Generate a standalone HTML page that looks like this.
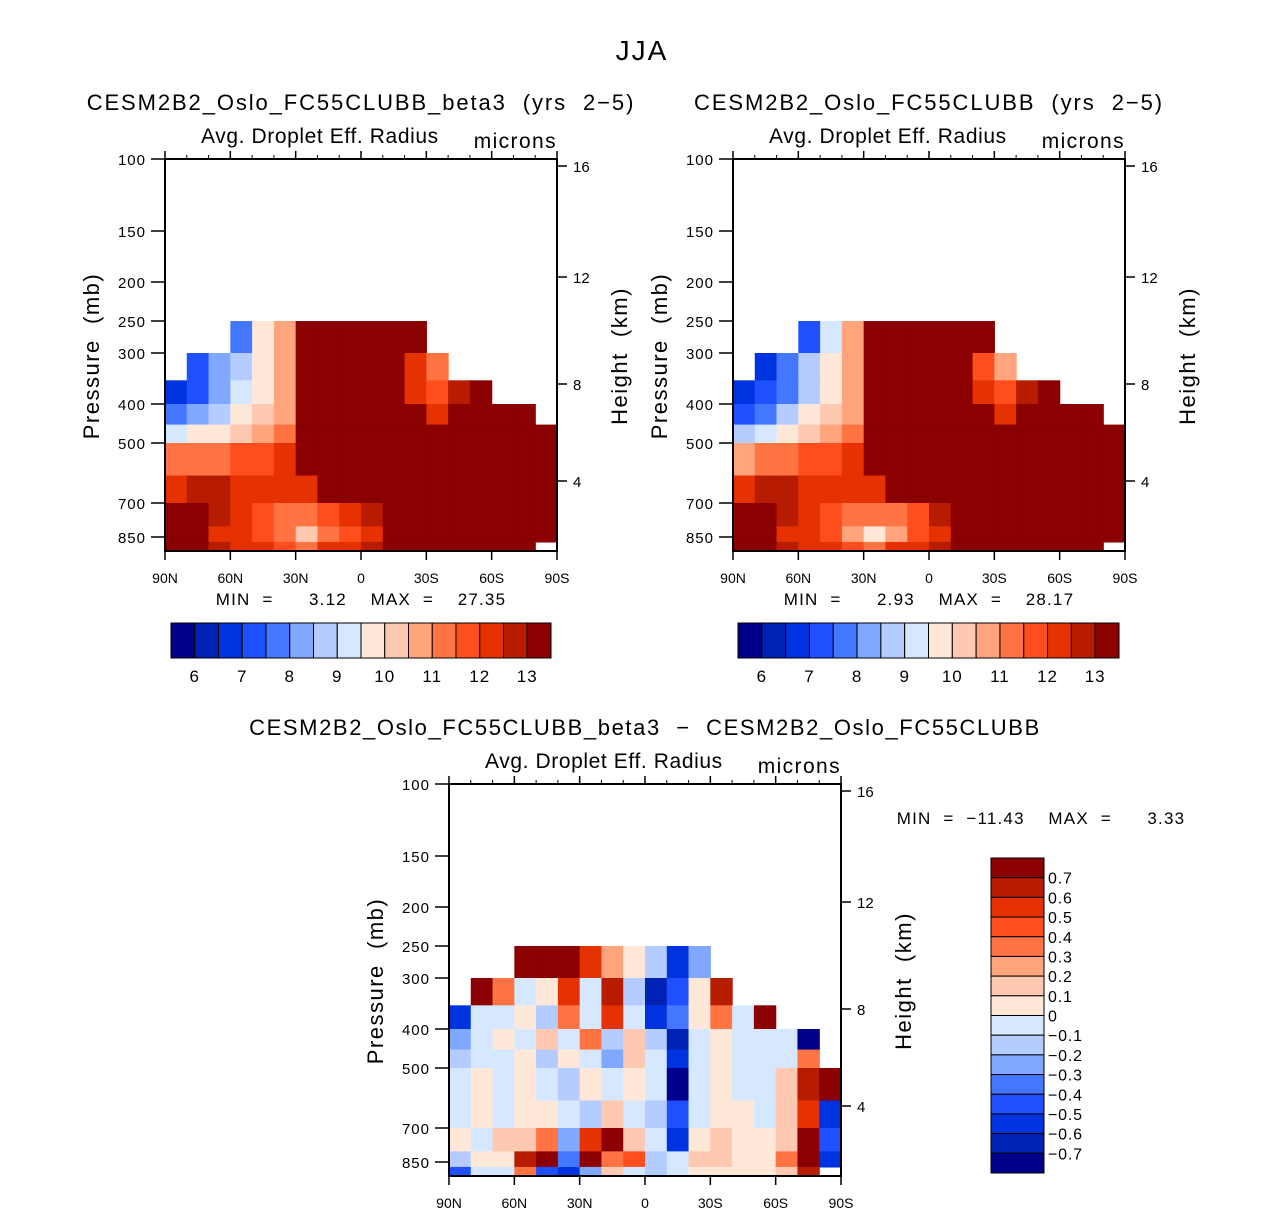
<!DOCTYPE html>
<html><head><meta charset="utf-8"><style>
body{margin:0;background:#fff;}
svg text{font-family:"Liberation Sans",sans-serif;fill:#000;white-space:pre;}
</style></head><body>
<svg id="fig" width="1285" height="1215" xmlns="http://www.w3.org/2000/svg"></svg>
<script>
// ---- data ----
const latEdges=[90,80,70,60,50,40,30,20,10,0,-10,-20,-30,-40,-50,-60,-70,-80,-90];
const presEdges=[250,300,350,400,450,500,600,700,800,900,1000];
const presTicks=[100,150,200,250,300,400,500,700,850];
const presTickPx=[0,72,123,162,194,245,284,344,378];
const heightTicks=[16,12,8,4];
const heightTickPx=[7,118,225,322];
const latTickLabels=["90N","60N","30N","0","30S","60S","90S"];
const latTickVals=[90,60,30,0,-30,-60,-90];
const mainBounds=[6,6.5,7,7.5,8,8.5,9,9.5,10,10.5,11,11.5,12,12.5,13];
const mainLabels=["6","7","8","9","10","11","12","13"];
const diffBounds=[-0.7,-0.6,-0.5,-0.4,-0.3,-0.2,-0.1,0,0.1,0.2,0.3,0.4,0.5,0.6,0.7];
const diffLabels=["0.7","0.6","0.5","0.4","0.3","0.2","0.1","0","\u22120.1","\u22120.2","\u22120.3","\u22120.4","\u22120.5","\u22120.6","\u22120.7"];
const N=NaN;
const field1=[
[N,N,N,7.5,9.5,10.5,14,14,14,14,14,14,N,N,N,N,N,N],
[N,7,8,8.5,9.5,10.5,14,14,14,14,14,12,11,N,N,N,N,N],
[6.5,7,8,9,9.5,10.5,14,14,14,14,14,12,11.5,12.5,13,N,N,N],
[7.5,8,8.5,9.5,10,10.5,14,14,14,14,14,13.5,12,13,14,14,14,N],
[9,9.5,9.5,10,10.5,11,14,14,14,14,14,14,13,14,14,14,14,14],
[11,11,11,11.5,11.5,12,13,14,14,14,14,14,14,14,14,14,14,14],
[12,12.5,12.5,12,12,12,12,13,14,14,14,14,14,14,14,14,14,14],
[13,13.5,12.5,12,11.5,11,11,11.5,12,12.5,13,14,14,14,14,14,14,14],
[14,13,12,12,11.5,11,10,11,11.5,12,13,14,14,14,14,14,14,14],
[14,14,12.5,12,12,11.5,11,12,12,12.5,13,14,14,14,14,14,14,N]];
const field2=[
[N,N,N,7,9,10.5,14,14,14,14,14,14,N,N,N,N,N,N],
[N,6.5,7.5,8.5,9.5,10.5,14,14,14,14,14,11.5,10.5,N,N,N,N,N],
[6.5,7,7.5,8.5,9.5,10.5,14,14,14,14,14,12,11.5,12.5,13,N,N,N],
[7,7.5,8.5,9.5,10,10.5,14,14,14,14,14,13.5,12,13,14,14,14,N],
[8.5,9,9.5,10,10.5,11,14,14,14,14,14,14,13,14,14,14,14,14],
[10.5,11,11,11.5,11.5,12,13,14,14,14,14,14,14,14,14,14,14,14],
[12,12.5,12.5,12,12,12,12,13,14,14,14,14,14,14,14,14,14,14],
[13,13.5,12.5,12,11.5,11,11,11,11.5,12.5,13,14,14,14,14,14,14,14],
[14,13,12,12,11.5,10.5,9.5,10.5,11.5,12,13,14,14,14,14,14,14,14],
[14,14,12.5,12,12,11.5,11,12,12,12.5,13,14,14,14,14,14,14,N]];
const fieldDiff=[
[N,N,N,0.8,0.8,0.8,0.5,0.2,0,-0.2,-0.6,-0.3,N,N,N,N,N,N],
[N,0.8,0.3,-0.05,0.05,0.5,-0.1,0.6,-0.2,-0.7,-0.5,0.05,0.6,N,N,N,N,N],
[-0.6,-0.05,-0.1,0.05,-0.2,0.3,-0.1,0.5,-0.05,-0.6,-0.4,0,0.3,-0.05,0.7,N,N,N],
[-0.3,-0.05,0,-0.1,0.15,-0.1,0.3,-0.2,0.1,-0.2,-0.7,-0.1,0.05,-0.05,-0.05,-0.1,-0.8,N],
[-0.15,-0.05,-0.05,0.05,-0.2,0.05,-0.05,-0.3,0.1,-0.05,-0.6,-0.05,0,-0.05,-0.1,-0.1,0.3,N],
[-0.05,0,-0.1,0,-0.05,-0.2,0.05,-0.1,0.05,-0.1,-0.8,-0.05,0.05,-0.05,-0.1,0.1,0.6,0.7],
[-0.1,0.05,-0.05,0,0.05,-0.1,-0.2,0.1,-0.05,-0.2,-0.5,-0.05,0.05,0.05,-0.05,0.1,0.5,-0.6],
[0.05,-0.05,0.1,0.15,0.3,-0.3,0.5,0.8,0.15,-0.1,-0.6,0.05,0.1,0.05,0,0.15,0.7,-0.5],
[-0.2,0.05,0,0.6,0.8,-0.4,0.8,0.3,0.4,-0.2,-0.1,0.1,0.1,0.05,0,0.3,0.8,-0.6],
[-0.5,-0.05,-0.1,0.3,-0.5,-0.6,-0.3,0.1,-0.1,-0.2,-0.05,0.05,0.05,0,0,0.15,0.6,N]];
const palette=["#00008b","#0022b4","#0033e0","#1e50ff","#4477ff","#80a8ff","#b4ccff","#d5e8ff","#ffe8d8","#ffc8b0","#ffa47c","#ff7442","#ff4e1e","#e63200","#b81c00","#8b0000"];

const NS="http://www.w3.org/2000/svg";
const svg=document.getElementById('fig');
function mk(tag,attrs,parent){const e=document.createElementNS(NS,tag);for(const k in attrs)e.setAttribute(k,attrs[k]);(parent||svg).appendChild(e);return e;}
function txt(s,x,y,size,anchor,name,parent,rot,ls){const t=mk('text',{x:x,y:y,'font-size':size,'text-anchor':anchor||'middle'},parent);if(ls)t.setAttribute('letter-spacing',ls);if(rot)t.setAttribute('transform','rotate(-90 '+x+' '+y+')');t.textContent=s;


return t;}
const S=392;
function xOf(lat,ox){return ox+(90-lat)/180*S;}
function yOf(p,oy){
  const ext=presTicks.concat([1000]);const px=presTickPx.concat([392]);
  for(let i=0;i<ext.length-1;i++){if(p>=ext[i]&&p<=ext[i+1]){const f=Math.log(p/ext[i])/Math.log(ext[i+1]/ext[i]);return oy+px[i]+f*(px[i+1]-px[i]);}}
  return oy+392;}
function colorIdx(v,b){let i=0;while(i<b.length&&v>=b[i])i++;return i;}

function panel(ox,oy,field,bounds,name,ttl,ttlLs){
  const g=mk('g',{});
  
  
  for(let r=0;r<field.length;r++)for(let c=0;c<field[r].length;c++){
    const v=field[r][c];if(isNaN(v))continue;
    const x0=xOf(latEdges[c],ox),x1=xOf(latEdges[c+1],ox),y0=yOf(presEdges[r],oy),y1=yOf(presEdges[r+1],oy);
    const rc=mk('rect',{x:x0,y:y0,width:x1-x0+0.6,height:y1-y0+0.6,fill:palette[colorIdx(v,bounds)]},g);
    
    
  }
  const fr=mk('rect',{x:ox,y:oy,width:S,height:S,fill:'none',stroke:'#000','stroke-width':2},g);
  
  
  presTicks.forEach((p,i)=>{const y=oy+presTickPx[i];mk('line',{x1:ox-14,x2:ox,y1:y,y2:y,stroke:'#000','stroke-width':1.5},g);txt(String(p),ox-19,y+6,15,'end','pressure-tick-label',g,false,1);});
  heightTicks.forEach((h,i)=>{const y=oy+heightTickPx[i];mk('line',{x1:ox+S,x2:ox+S+10,y1:y,y2:y,stroke:'#000','stroke-width':1.5},g);txt(String(h),ox+S+16,y+6,15,'start','height-tick-label',g);});
  latTickVals.forEach((l,i)=>{const x=xOf(l,ox);mk('line',{x1:x,x2:x,y1:oy+S,y2:oy+S+9,stroke:'#000','stroke-width':1.5},g);mk('line',{x1:x,x2:x,y1:oy,y2:oy-8,stroke:'#000','stroke-width':1.5},g);txt(latTickLabels[i],x,oy+S+32,14,'middle','lat-tick-label',g);});
  for(let l=80;l>-90;l-=10){if(l%30===0)continue;const x=xOf(l,ox);mk('line',{x1:x,x2:x,y1:oy,y2:oy-4,stroke:'#000'},g);}
  txt('Pressure  (mb)',ox-66,oy+197,22,'middle','y-axis-title',g,true,1.5);
  txt('Height  (km)',ox+S+70,oy+197,22,'middle','right-axis-title',g,true,1.5);
  txt('Avg. Droplet Eff. Radius',ox+36,oy-16,21,'start','field-title',g,false,0.6);
  txt('microns',ox+S,oy-11,21,'end','units-label',g,false,1.4);
  txt(ttl,ox+S/2,oy-49,22,'middle','panel-title',g,false,ttlLs);
}
function hbar(x,y,w,h,name){
  const g=mk('g',{});
  const bw=w/16;
  palette.forEach((c,i)=>{const r=mk('rect',{x:x+i*bw,y:y,width:bw,height:h,fill:c,stroke:'#000','stroke-width':1},g);});
  mainLabels.forEach((s,i)=>txt(s,x+(2*i+1)*bw,y+h+24,17,'middle','colorbar-label',g,false,1));
}
panel(165,159,field1,mainBounds,'panel-beta3','CESM2B2_Oslo_FC55CLUBB_beta3  (yrs  2\u22125)',1.9);
panel(733,159,field2,mainBounds,'panel-control','CESM2B2_Oslo_FC55CLUBB  (yrs  2\u22125)',1.9);
panel(449,784,fieldDiff,diffBounds,'panel-difference','CESM2B2_Oslo_FC55CLUBB_beta3  \u2212  CESM2B2_Oslo_FC55CLUBB',1.6);
txt('JJA',642,60,28,'middle','main-title',null,false,2);
txt('MIN  =      3.12    MAX  =    27.35',361,605,17,'middle','minmax-1',null,false,1.2);
txt('MIN  =      2.93    MAX  =    28.17',929,605,17,'middle','minmax-2',null,false,1.2);
txt('MIN  =  \u221211.43    MAX  =      3.33',1041,824,17,'middle','minmax-diff',null,false,1.2);
hbar(171,623,380,35,'colorbar-1');
hbar(738,623,381,35,'colorbar-2');
// vertical diff colorbar
(function(){const x=991,y=858,w=53,h=315,bh=h/16;
const g=mk('g',{});
palette.slice().reverse().forEach((c,i)=>{const r=mk('rect',{x:x,y:y+i*bh,width:w,height:bh,fill:c,stroke:'#000','stroke-width':1},g);});
diffLabels.forEach((s,i)=>txt(s,x+w+4,y+(i+1)*bh+6,16,'start','colorbar-label',g,false,0.8));})();
</script>
</body></html>
